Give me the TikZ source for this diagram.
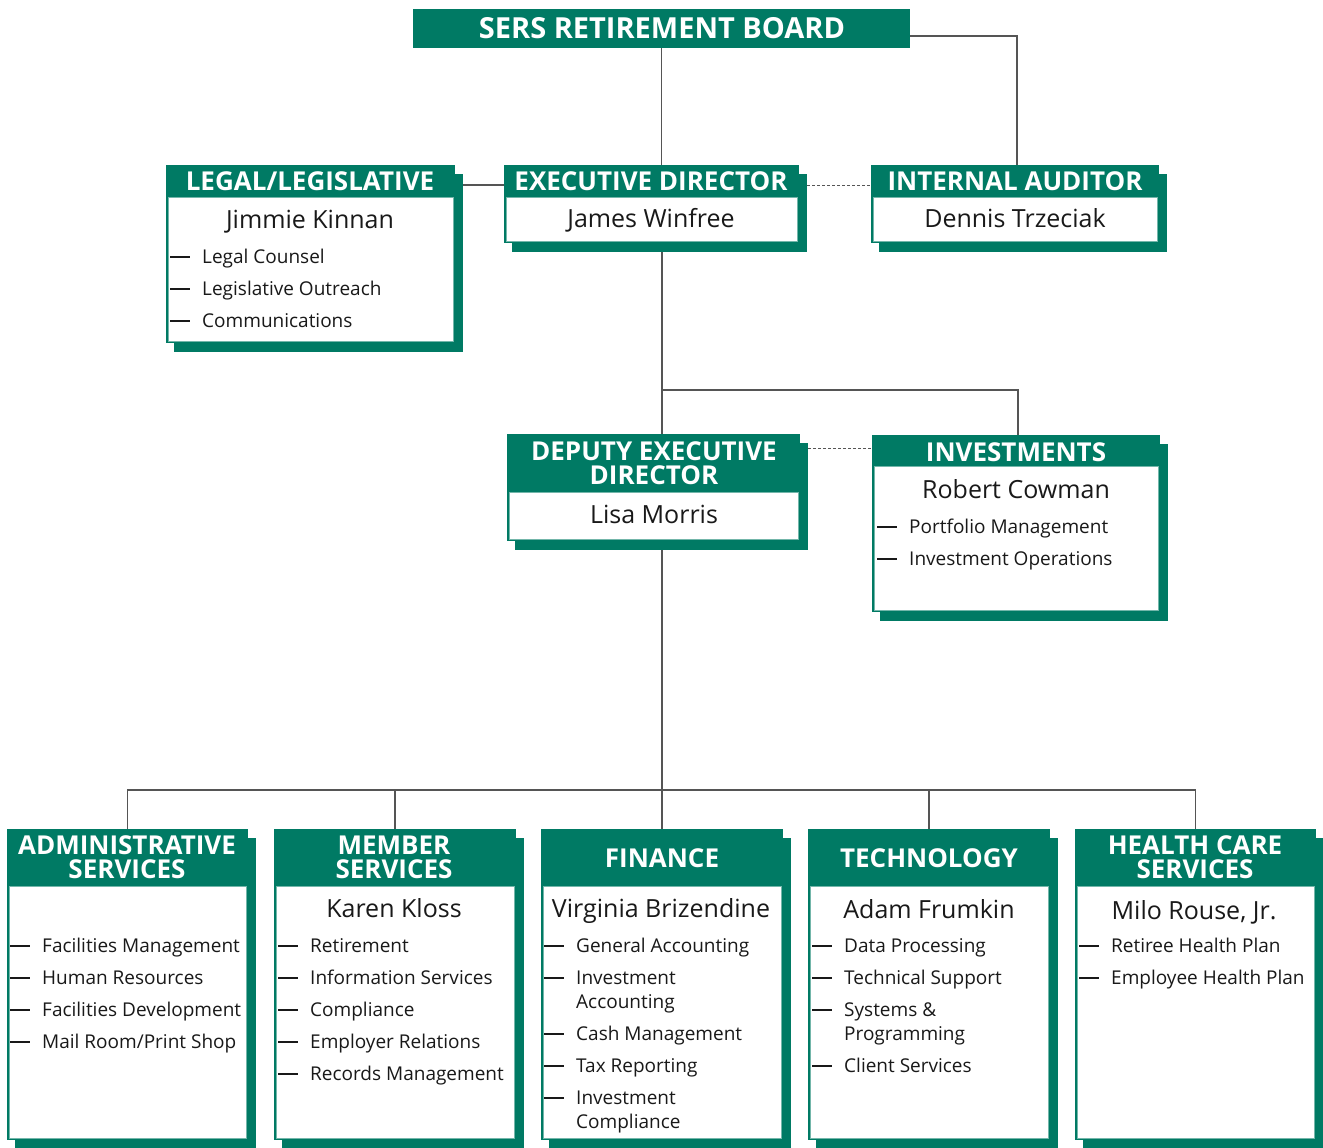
\documentclass[tikz,border=0pt]{standalone}
\usepackage{fontspec}
\setmainfont{Open Sans}
\usepackage{xcolor}
\definecolor{sersgreen}{RGB}{0,122,100}
\definecolor{linegray}{RGB}{85,85,85}
\newcommand{\dutydash}{\llap{\rule[5.5pt]{20pt}{1.1pt}\hspace{12pt}}}

\begin{document}
\begin{tikzpicture}[x=1pt,y=-1pt,
    unitshadow/.style={fill=sersgreen,inner sep=0pt,outer sep=0pt},
    unitbox/.style={fill=sersgreen,inner sep=0pt,outer sep=0pt},
    unitbody/.style={fill=white,draw=sersgreen!55,line width=0.8pt,inner sep=0pt,outer sep=0pt},
    unittitle/.style={text=white,font=\bfseries\fontsize{26}{24}\selectfont,align=center,inner sep=0pt},
    person/.style={text=black!90,font=\fontsize{25}{28}\selectfont,inner sep=0pt,text height=0.72em,text depth=0.22em,yshift=-7pt},
    duty/.style={text=black!90,font=\fontsize{19}{24}\selectfont,anchor=west,inner sep=0pt,text height=0.75em,text depth=0.25em,yshift=-4.5pt},
    link/.style={draw=linegray,line width=1.3pt},
    dotlink/.style={draw=linegray,line width=1pt,dash pattern=on 3pt off 2pt}]
            \useasboundingbox (0,0) rectangle (1323,1148);

            % board
            \node (board) at (661.5,28.5) [unitbox,minimum width=497pt,minimum height=39pt] {};
            \node (board-t) at (662,28) [unittitle,font=\bfseries\fontsize{29}{30}\selectfont] {SERS RETIREMENT BOARD};

            % legal
            \node (legal-s) at (318.5,263) [unitshadow,minimum width=289pt,minimum height=178pt] {};
            \node (legal) at (310.5,254) [unitbox,minimum width=289pt,minimum height=178pt] {};
            \node (legal-b) at (310.5,269) [unitbody,minimum width=285pt,minimum height=144pt] {};
            \node (legal-t) at (310,181) [unittitle] {LEGAL/LEGISLATIVE};
            \node (legal-n) at (310,219) [person] {Jimmie Kinnan};
            \node (legal-1) at (202,256) [duty] {\dutydash Legal Counsel};
            \node (legal-2) at (202,288) [duty] {\dutydash Legislative Outreach};
            \node (legal-3) at (202,320) [duty] {\dutydash Communications};

            % executive director
            \node (exec-s) at (659.5,213) [unitshadow,minimum width=295pt,minimum height=78pt] {};
            \node (exec) at (651.5,204) [unitbox,minimum width=295pt,minimum height=78pt] {};
            \node (exec-b) at (651.5,219) [unitbody,minimum width=291pt,minimum height=44pt] {};
            \node (exec-t) at (651,181) [unittitle] {EXECUTIVE DIRECTOR};
            \node (exec-n) at (651,218) [person] {James Winfree};

            % internal auditor
            \node (audit-s) at (1023,213) [unitshadow,minimum width=288pt,minimum height=78pt] {};
            \node (audit) at (1015,204) [unitbox,minimum width=288pt,minimum height=78pt] {};
            \node (audit-b) at (1015,219) [unitbody,minimum width=284pt,minimum height=44pt] {};
            \node (audit-t) at (1015,181) [unittitle] {INTERNAL AUDITOR};
            \node (audit-n) at (1015,218) [person] {Dennis Trzeciak};

            % deputy executive director
            \node (deputy-s) at (661.5,496.5) [unitshadow,minimum width=293pt,minimum height=107pt] {};
            \node (deputy) at (653.5,487.5) [unitbox,minimum width=293pt,minimum height=107pt] {};
            \node (deputy-b) at (653.5,515.5) [unitbody,minimum width=289pt,minimum height=47pt] {};
            \node (deputy-t) at (654,463) [unittitle] {DEPUTY EXECUTIVE\\DIRECTOR};
            \node (deputy-n) at (654,514) [person] {Lisa Morris};

            % investments
            \node (invest-s) at (1024,532.5) [unitshadow,minimum width=288pt,minimum height=177pt] {};
            \node (invest) at (1016,523.5) [unitbox,minimum width=288pt,minimum height=177pt] {};
            \node (invest-b) at (1016,538) [unitbody,minimum width=284pt,minimum height=144pt] {};
            \node (invest-t) at (1016,452) [unittitle] {INVESTMENTS};
            \node (invest-n) at (1016,489) [person] {Robert Cowman};
            \node (invest-1) at (909,526) [duty] {\dutydash Portfolio Management};
            \node (invest-2) at (909,558) [duty] {\dutydash Investment Operations};

            % administrative services
            \node (admin-s) at (135.5,993.5) [unitshadow,minimum width=241pt,minimum height=311pt] {};
            \node (admin) at (127.5,984.5) [unitbox,minimum width=241pt,minimum height=311pt] {};
            \node (admin-b) at (127.5,1012) [unitbody,minimum width=237pt,minimum height=252pt] {};
            \node (admin-t) at (127,857) [unittitle] {ADMINISTRATIVE\\SERVICES};
            \node (admin-1) at (42,945) [duty] {\dutydash Facilities Management};
            \node (admin-2) at (42,977) [duty] {\dutydash Human Resources};
            \node (admin-3) at (42,1009) [duty] {\dutydash Facilities Development};
            \node (admin-4) at (42,1041) [duty] {\dutydash Mail Room/Print Shop};

            % member services
            \node (member-s) at (403,993.5) [unitshadow,minimum width=242pt,minimum height=311pt] {};
            \node (member) at (395,984.5) [unitbox,minimum width=242pt,minimum height=311pt] {};
            \node (member-b) at (395,1012) [unitbody,minimum width=238pt,minimum height=252pt] {};
            \node (member-t) at (394,857) [unittitle] {MEMBER\\SERVICES};
            \node (member-n) at (394,908) [person] {Karen Kloss};
            \node (member-1) at (310,945) [duty] {\dutydash Retirement};
            \node (member-2) at (310,977) [duty] {\dutydash Information Services};
            \node (member-3) at (310,1009) [duty] {\dutydash Compliance};
            \node (member-4) at (310,1041) [duty] {\dutydash Employer Relations};
            \node (member-5) at (310,1073) [duty] {\dutydash Records Management};

            % finance
            \node (finance-s) at (670,993.5) [unitshadow,minimum width=242pt,minimum height=311pt] {};
            \node (finance) at (662,984.5) [unitbox,minimum width=242pt,minimum height=311pt] {};
            \node (finance-b) at (662,1012) [unitbody,minimum width=238pt,minimum height=252pt] {};
            \node (finance-t) at (662,858) [unittitle] {FINANCE};
            \node (finance-n) at (661,908) [person] {Virginia Brizendine};
            \node (finance-1) at (576,945) [duty] {\dutydash General Accounting};
            \node (finance-2) at (576,977) [duty] {\dutydash Investment};
            \node (finance-2b) at (576,1001) [duty] {Accounting};
            \node (finance-3) at (576,1033) [duty] {\dutydash Cash Management};
            \node (finance-4) at (576,1065) [duty] {\dutydash Tax Reporting};
            \node (finance-5) at (576,1097) [duty] {\dutydash Investment};
            \node (finance-5b) at (576,1121) [duty] {Compliance};

            % technology
            \node (tech-s) at (937,993.5) [unitshadow,minimum width=242pt,minimum height=311pt] {};
            \node (tech) at (929,984.5) [unitbox,minimum width=242pt,minimum height=311pt] {};
            \node (tech-b) at (929,1012) [unitbody,minimum width=238pt,minimum height=252pt] {};
            \node (tech-t) at (929,858) [unittitle] {TECHNOLOGY};
            \node (tech-n) at (929,909) [person] {Adam Frumkin};
            \node (tech-1) at (844,945) [duty] {\dutydash Data Processing};
            \node (tech-2) at (844,977) [duty] {\dutydash Technical Support};
            \node (tech-3) at (844,1009) [duty] {\dutydash Systems \&};
            \node (tech-3b) at (844,1033) [duty] {Programming};
            \node (tech-4) at (844,1065) [duty] {\dutydash Client Services};

            % health care services
            \node (health-s) at (1203.5,993.5) [unitshadow,minimum width=241pt,minimum height=311pt] {};
            \node (health) at (1195.5,984.5) [unitbox,minimum width=241pt,minimum height=311pt] {};
            \node (health-b) at (1195.5,1012) [unitbody,minimum width=237pt,minimum height=252pt] {};
            \node (health-t) at (1195,857) [unittitle] {HEALTH CARE\\SERVICES};
            \node (health-n) at (1194,910) [person] {Milo Rouse, Jr.};
            \node (health-1) at (1111,945) [duty] {\dutydash Retiree Health Plan};
            \node (health-2) at (1111,977) [duty] {\dutydash Employee Health Plan};

            % connectors
            \coordinate (j1) at (662,390);
            \coordinate (j2) at (662,790);
            \draw[link] (board.south) -- (board.south |- exec.north);
            \draw[link] (board.east |- 0,36) -| ([xshift=2pt]audit.north);
            \draw[link] (legal-s.east |- 0,185) -- (exec.west |- 0,185);
            \draw[dotlink] (exec-s.east |- 0,185) -- (audit.west |- 0,185);
            \draw[link] (j1 |- exec-s.south) -- (j1) -- (j1 |- deputy.north);
            \draw[link] (j1) -| ([xshift=2pt]invest.north);
            \draw[dotlink] (deputy-s.east |- 0,448) -- (invest.west |- 0,448);
            \draw[link] (j2 |- deputy-s.south) -- (j2);
            \draw[link] (admin.north) |- (health.north |- j2) -- (health.north);
            \draw[link] (member.north) -- (member.north |- j2);
            \draw[link] (finance.north) -- (finance.north |- j2);
            \draw[link] (tech.north) -- (tech.north |- j2);
        \end{tikzpicture}
\end{document}
